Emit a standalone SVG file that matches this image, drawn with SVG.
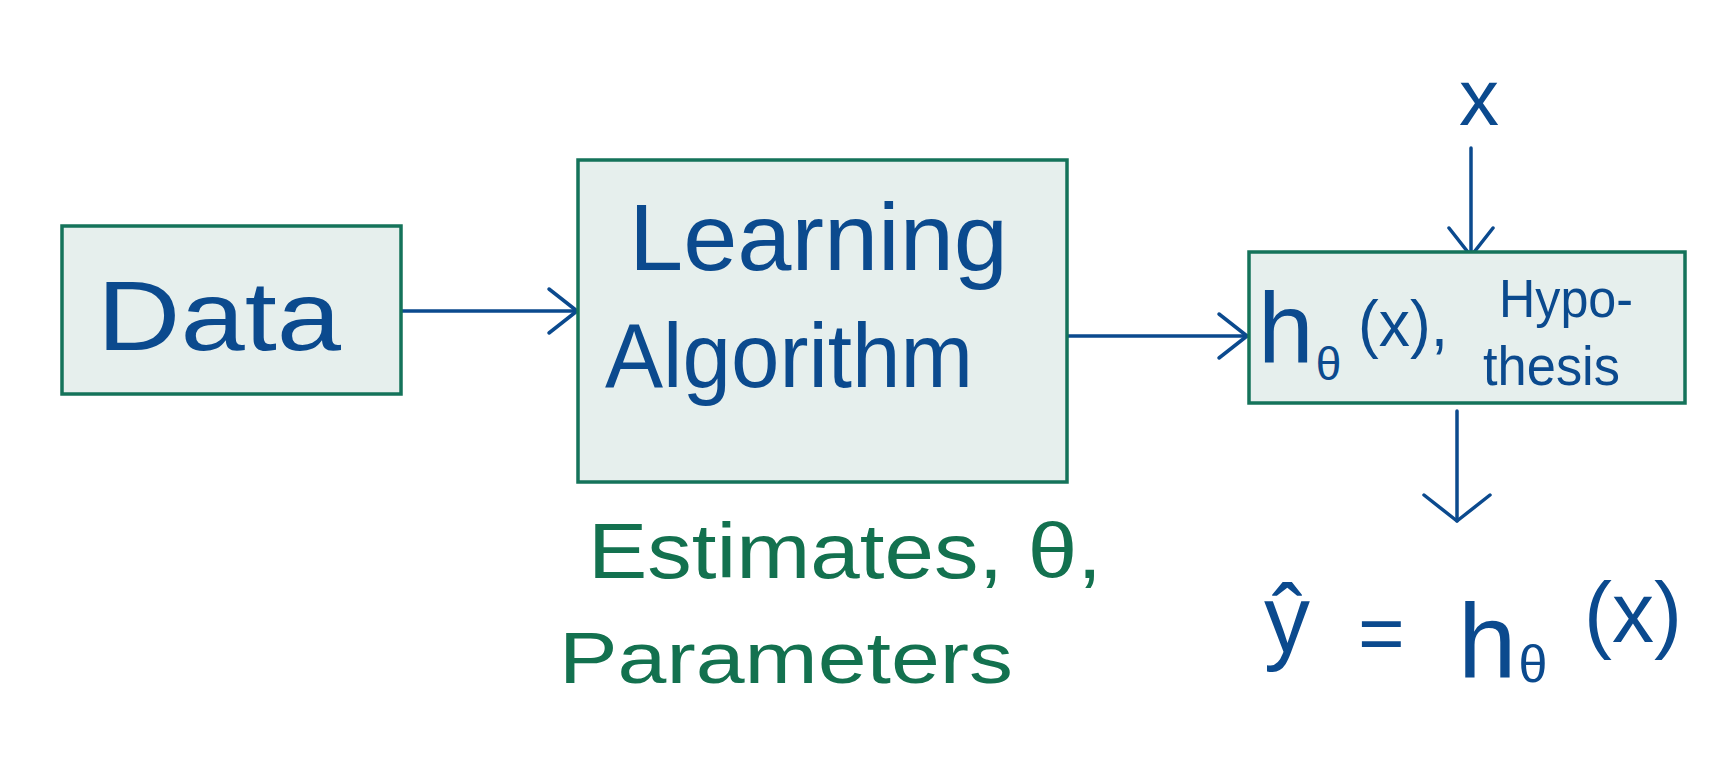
<svg xmlns="http://www.w3.org/2000/svg" width="1730" height="770" viewBox="0 0 1730 770">
<style>
.box{fill:#e6efed;stroke:#14735a;stroke-width:3.5}
.t{font-family:"Liberation Sans",Arial,sans-serif;fill:#0b4a8e}
.g{font-family:"Liberation Sans",Arial,sans-serif;fill:#13714f}
.ln{stroke:#0b4a8e;stroke-width:3.5;fill:none;stroke-linecap:round}
</style>
<defs>
<marker id="ah" markerUnits="userSpaceOnUse" markerWidth="80" markerHeight="80" viewBox="-40 -40 80 80" refX="0" refY="0" orient="auto" overflow="visible">
<path d="M-28,-22 L0,0 L-28,22" fill="none" stroke="#0b4a8e" stroke-width="3.5" stroke-linecap="round" stroke-linejoin="round"/>
</marker>
<marker id="ahw" markerUnits="userSpaceOnUse" markerWidth="90" markerHeight="90" viewBox="-45 -45 90 90" refX="0" refY="0" orient="auto" overflow="visible">
<path d="M-26,-33 L0,0 L-26,33" fill="none" stroke="#0b4a8e" stroke-width="3.5" stroke-linecap="round" stroke-linejoin="round"/>
</marker>
</defs>
<rect width="1730" height="770" fill="#ffffff"/>
<g id="connectors">
<line class="ln" x1="401" y1="311" x2="577" y2="311" marker-end="url(#ah)"/>
<line class="ln" x1="1067" y1="336" x2="1247" y2="336" marker-end="url(#ah)"/>
<line class="ln" x1="1471" y1="148" x2="1471" y2="256" marker-end="url(#ah)"/>
<line class="ln" x1="1457" y1="411" x2="1457" y2="521" marker-end="url(#ahw)"/>
</g>
<g id="node-data">
<rect class="box" x="62" y="226" width="339" height="168"/>
<text class="t" x="97" y="350" font-size="98" textLength="244" lengthAdjust="spacingAndGlyphs">Data</text>
</g>
<g id="node-learning">
<rect class="box" x="578" y="160" width="489" height="322"/>
<text class="t" x="629" y="270" font-size="95" textLength="379" lengthAdjust="spacingAndGlyphs">Learning</text>
<text class="t" x="605" y="387" font-size="91" textLength="368" lengthAdjust="spacingAndGlyphs">Algorithm</text>
</g>
<g id="node-hypothesis">
<rect class="box" x="1249" y="252" width="436" height="151"/>
<text class="t" x="1258" y="363" font-size="100">h<tspan font-size="46" dx="2" dy="17">θ</tspan></text>
<text class="t" x="1358" y="346" font-size="64" textLength="90" lengthAdjust="spacingAndGlyphs">(x),</text>
<text class="t" x="1499" y="317" font-size="54" textLength="134" lengthAdjust="spacingAndGlyphs">Hypo-</text>
<text class="t" x="1483" y="385" font-size="55" textLength="137" lengthAdjust="spacingAndGlyphs">thesis</text>
</g>
<g id="node-input">
<text class="t" x="1459" y="125" font-size="80">x</text>
</g>
<g id="node-estimates">
<text class="g" x="588" y="578" font-size="77" textLength="514" lengthAdjust="spacingAndGlyphs">Estimates, θ,</text>
<text class="g" x="559" y="683" font-size="72" textLength="454" lengthAdjust="spacingAndGlyphs">Parameters</text>
</g>
<g id="node-output">
<text class="t" x="1264" y="652" font-size="96" textLength="46" lengthAdjust="spacingAndGlyphs">ŷ</text>
<text class="t" x="1358" y="660" font-size="80">=</text>
<text class="t" x="1458" y="678" font-size="105">h<tspan font-size="52" dx="2" dy="4">θ</tspan></text>
<text class="t" x="1584" y="642" font-size="86" textLength="98" lengthAdjust="spacingAndGlyphs">(x)</text>
</g>
</svg>
